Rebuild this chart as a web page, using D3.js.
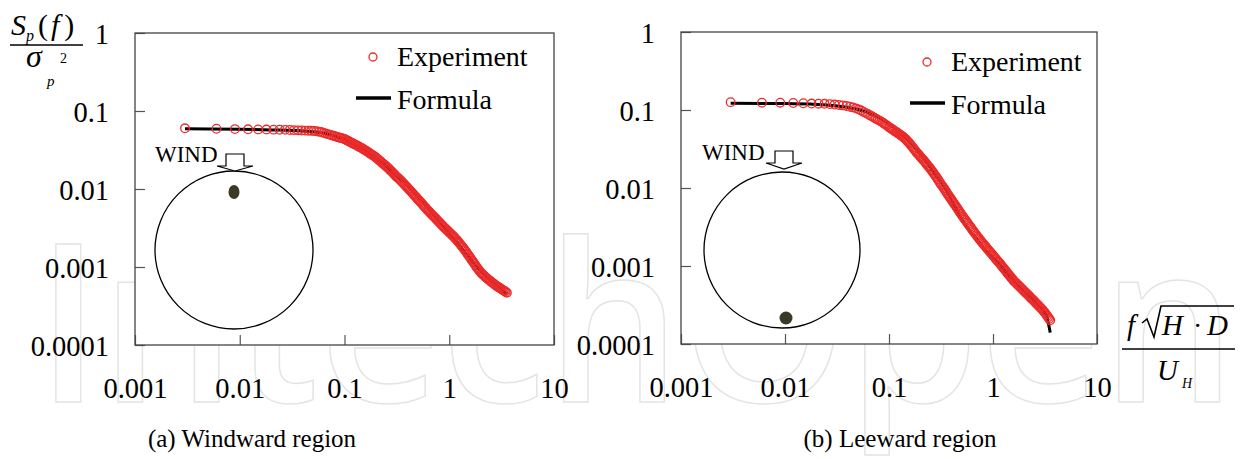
<!DOCTYPE html>
<html>
<head>
<meta charset="utf-8">
<script src="https://cdn.jsdelivr.net/npm/d3@7"></script>
<style>
  body { margin: 0; background: #fff; }
  svg text { font-family: "Liberation Serif", "Times New Roman", serif; fill: #000; }
</style>
</head>
<body>
<div id="chart"></div>
<script>
// size of the page
var svgWidth = 1241;
var svgHeight = 459;

// ---- data ----
// reduced frequency f*sqrt(H*D)/U_H (shared by both panels)
var freq = [0.003, 0.006, 0.009, 0.012, 0.015, 0.018, 0.021, 0.024, 0.027, 0.030, 0.033, 0.036, 0.039, 0.042, 0.045, 0.048,
  0.051, 0.054, 0.057, 0.060, 0.063, 0.066, 0.069, 0.072, 0.075, 0.078, 0.081, 0.084, 0.087, 0.090, 0.093, 0.096,
  0.100, 0.105, 0.110, 0.115, 0.120, 0.126, 0.132, 0.138, 0.145, 0.151, 0.158, 0.166, 0.174, 0.182, 0.191, 0.200,
  0.209, 0.219, 0.229, 0.240, 0.251, 0.263, 0.275, 0.288, 0.302, 0.316, 0.331, 0.347, 0.363, 0.380, 0.398, 0.417,
  0.437, 0.457, 0.479, 0.501, 0.525, 0.550, 0.575, 0.603, 0.631, 0.661, 0.692, 0.724, 0.759, 0.794, 0.832, 0.871,
  0.912, 0.955, 1.00, 1.05, 1.10, 1.15, 1.20, 1.26, 1.32, 1.38, 1.45, 1.51, 1.58, 1.66, 1.74, 1.82, 1.91, 2.00,
  2.09, 2.19, 2.29, 2.40, 2.51, 2.63, 2.75, 2.88, 3.02, 3.16, 3.31, 3.47, 3.55];

// (a) windward, experiment
var windwardExp = [0.0600, 0.0592, 0.0586, 0.0583, 0.0581, 0.0578, 0.0577, 0.0575, 0.0573, 0.0571, 0.0568, 0.0565, 0.0562, 0.0561, 0.0558, 0.0557,
  0.0555, 0.0551, 0.0543, 0.0537, 0.0525, 0.0515, 0.0506, 0.0498, 0.0490, 0.0482, 0.0475, 0.0468, 0.0461, 0.0455, 0.0450, 0.0444,
  0.0437, 0.0423, 0.0409, 0.0396, 0.0384, 0.0372, 0.0360, 0.0348, 0.0337, 0.0324, 0.0313, 0.0300, 0.0288, 0.0276, 0.0265, 0.0254,
  0.0240, 0.0228, 0.0216, 0.0205, 0.0195, 0.0184, 0.0173, 0.0163, 0.0152, 0.0143, 0.0135, 0.0127, 0.0119, 0.0112, 0.0105, 0.00977,
  0.00912, 0.00851, 0.00794, 0.00741, 0.00692, 0.00646, 0.00603, 0.00562, 0.00525, 0.00492, 0.00461, 0.00433, 0.00406, 0.00380, 0.00357, 0.00334,
  0.00314, 0.00296, 0.00279, 0.00262, 0.00247, 0.00231, 0.00215, 0.00200, 0.00185, 0.00171, 0.00157, 0.00144, 0.00132, 0.00120, 0.00110, 0.00100,
  0.000925, 0.000851, 0.000802, 0.000755, 0.000715, 0.000679, 0.000646, 0.000617, 0.000589, 0.000564, 0.000541, 0.000519, 0.000498, 0.000478, 0.000468];

// (b) leeward, experiment
var leewardExp = [0.126, 0.124, 0.124, 0.123, 0.122, 0.121, 0.1205, 0.120, 0.119, 0.1175, 0.116, 0.1146, 0.1125, 0.110, 0.108, 0.105,
  0.102, 0.0986, 0.0946, 0.0912, 0.0881, 0.0851, 0.0824, 0.0798, 0.0774, 0.0752, 0.0731, 0.0710, 0.0689, 0.0668, 0.0649, 0.0631,
  0.0603, 0.0578, 0.0555, 0.0532, 0.0511, 0.0490, 0.0468, 0.0447, 0.0423, 0.0396, 0.0372, 0.0343, 0.0316, 0.0292, 0.0272, 0.0254,
  0.0236, 0.0220, 0.0204, 0.0189, 0.0175, 0.0161, 0.0148, 0.0135, 0.0123, 0.0112, 0.0103, 0.00935, 0.00853, 0.00780, 0.00711, 0.00649,
  0.00592, 0.00540, 0.00492, 0.00449, 0.00412, 0.00379, 0.00348, 0.00320, 0.00294, 0.00271, 0.00249, 0.00230, 0.00213, 0.00197, 0.00183, 0.00170,
  0.00158, 0.00147, 0.00137, 0.00127, 0.00118, 0.00110, 0.00102, 0.000942, 0.000873, 0.000809, 0.000750, 0.000695, 0.000646, 0.000608, 0.000571, 0.000538,
  0.000506, 0.000475, 0.000448, 0.000421, 0.000396, 0.000372, 0.000350, 0.000329, 0.000309, 0.000290, 0.000270, 0.000251, 0.000230, 0.000211, 0.000202];

// extra readings in the dense part of the record (between the frequencies above)
var freqDense = [0.102, 0.107, 0.112, 0.118, 0.123, 0.129, 0.135, 0.141, 0.148, 0.155, 0.162, 0.170, 0.178, 0.186, 0.195, 0.204,
  0.214, 0.224, 0.234, 0.246, 0.257, 0.269, 0.282, 0.295, 0.309, 0.324, 0.339, 0.355, 0.372, 0.389, 0.407, 0.427,
  0.447, 0.468, 0.490, 0.513, 0.537, 0.562, 0.589, 0.617, 0.646, 0.676, 0.708, 0.741, 0.776, 0.813, 0.851, 0.891,
  0.933, 0.977, 1.02, 1.07, 1.12, 1.18, 1.23, 1.29, 1.35, 1.41, 1.48, 1.55, 1.62, 1.70, 1.78, 1.86,
  1.95, 2.04, 2.14, 2.24, 2.34, 2.46, 2.57, 2.69, 2.82, 2.95, 3.09, 3.24, 3.39];

var windwardExpDense = [0.0430, 0.0416, 0.0402, 0.0390, 0.0378, 0.0366, 0.0354, 0.0342, 0.0330, 0.0318, 0.0306, 0.0294, 0.0282, 0.0270, 0.0259, 0.0247,
  0.0234, 0.0222, 0.0210, 0.0200, 0.0189, 0.0178, 0.0168, 0.0157, 0.0147, 0.0139, 0.0131, 0.0123, 0.0115, 0.0108, 0.0101, 0.00944,
  0.00881, 0.00822, 0.00767, 0.00716, 0.00669, 0.00624, 0.00582, 0.00543, 0.00508, 0.00476, 0.00447, 0.00419, 0.00393, 0.00368, 0.00345, 0.00324,
  0.00305, 0.00287, 0.00270, 0.00254, 0.00239, 0.00223, 0.00207, 0.00192, 0.00178, 0.00164, 0.00150, 0.00138, 0.00126, 0.00115, 0.00105, 0.000962,
  0.000888, 0.000826, 0.000778, 0.000735, 0.000697, 0.000662, 0.000631, 0.000603, 0.000576, 0.000552, 0.000530, 0.000508, 0.000488];

var leewardExpDense = [0.0590, 0.0566, 0.0543, 0.0521, 0.0500, 0.0479, 0.0457, 0.0435, 0.0409, 0.0384, 0.0357, 0.0329, 0.0304, 0.0282, 0.0263, 0.0245,
  0.0228, 0.0212, 0.0196, 0.0182, 0.0168, 0.0154, 0.0141, 0.0129, 0.0117, 0.0107, 0.00982, 0.00894, 0.00816, 0.00745, 0.00680, 0.00620,
  0.00566, 0.00516, 0.00470, 0.00430, 0.00395, 0.00363, 0.00334, 0.00307, 0.00282, 0.00260, 0.00239, 0.00221, 0.00205, 0.00190, 0.00176, 0.00164,
  0.00152, 0.00142, 0.00132, 0.00122, 0.00114, 0.00106, 0.000981, 0.000907, 0.000841, 0.000779, 0.000722, 0.000670, 0.000627, 0.000589, 0.000554, 0.000522,
  0.000490, 0.000461, 0.000434, 0.000408, 0.000384, 0.000361, 0.000339, 0.000319, 0.000299, 0.000280, 0.000260, 0.000240, 0.000220];

// formula curves
var windFormulaFreq = [0.003, 0.01, 0.02, 0.04, 0.06, 0.08, 0.10, 0.13, 0.16, 0.20, 0.25, 0.30, 0.40, 0.50, 0.60, 0.80, 1.0, 1.2, 1.5, 2.0, 2.5, 3.0, 3.55];
var windwardFormula = [0.0590, 0.0583, 0.0572, 0.0555, 0.0525, 0.0480, 0.0430, 0.0360, 0.0305, 0.0250, 0.0196, 0.0155, 0.0112, 0.0080, 0.0061, 0.0038, 0.0027, 0.0020, 0.00140, 0.00088, 0.00066, 0.00054, 0.00045];

var leeFormulaFreq = [0.003, 0.01, 0.02, 0.04, 0.06, 0.08, 0.10, 0.13, 0.16, 0.20, 0.25, 0.30, 0.35, 0.40, 0.45, 0.50, 0.60, 0.70, 0.80, 0.90, 1.0, 1.2, 1.5, 2.0, 2.5, 3.0, 3.3, 3.55];
var leewardFormula = [0.122, 0.121, 0.118, 0.108, 0.095, 0.080, 0.066, 0.050, 0.038, 0.0275, 0.0185, 0.0130, 0.0096, 0.0070, 0.0051, 0.0040, 0.0028, 0.0022, 0.0017, 0.00145, 0.00128, 0.00100, 0.00070, 0.00047, 0.00036, 0.00027, 0.00022, 0.00014];

// ticks
var xTickValues = [0.001, 0.01, 0.1, 1, 10];
var xTickLabels = ["0.001", "0.01", "0.1", "1", "10"];
var yTickValues = [0.0001, 0.001, 0.01, 0.1, 1];
var yTickLabels = ["0.0001", "0.001", "0.01", "0.1", "1"];

var legendLabels = ["Experiment", "Formula"];
var panelTitles = ["(a) Windward region", "(b) Leeward region"];

var red = "#ec2b2b";

var svg = d3.select("#chart")
  .append("svg")
  .attr("width", svgWidth)
  .attr("height", svgHeight);

// watermark in the background
svg.append("text")
  .attr("x", 36)
  .attr("y", 402)
  .attr("textLength", 1200)
  .attr("lengthAdjust", "spacingAndGlyphs")
  .style("font-family", "'Open Sans', sans-serif")
  .style("font-weight", 600)
  .style("font-size", "222px")
  .style("fill", "none")
  .style("stroke", "#e4e4e4")
  .style("stroke-width", 1.5)
  .text("IntechOpen");

var panels = [
  { left: 135, right: 554, top: 33, bottom: 345, exp: windwardExp, expDense: windwardExpDense, fFreq: windFormulaFreq, formula: windwardFormula,
    title: panelTitles[0], titleX: 252, legendX: 373, legendY: 57,
    ring: { cx: 234, cy: 250, r: 79 }, tap: { cx: 234, cy: 192, rx: 5.5, ry: 7 }, windX: 155, windY: 162, arrowX: 235, arrowTop: 154, arrowTip: 171 },
  { left: 681, right: 1097, top: 32, bottom: 344, exp: leewardExp, expDense: leewardExpDense, fFreq: leeFormulaFreq, formula: leewardFormula,
    title: panelTitles[1], titleX: 900, legendX: 927, legendY: 62,
    ring: { cx: 782, cy: 250, r: 78 }, tap: { cx: 786, cy: 318, rx: 6.5, ry: 6.5 }, windX: 702, windY: 160, arrowX: 784, arrowTop: 151, arrowTip: 169 }
];

panels.forEach(function(p) {
  var xScale = d3.scaleLog().domain([0.001, 10]).range([p.left, p.right]);
  var yScale = d3.scaleLog().domain([0.0001, 1]).range([p.bottom, p.top]);

  // plot area hides the watermark
  svg.append("rect")
    .attr("x", p.left).attr("y", p.top)
    .attr("width", p.right - p.left).attr("height", p.bottom - p.top)
    .attr("fill", "#fff");

  // cylinder sketch with tap position
  svg.append("circle")
    .attr("cx", p.ring.cx).attr("cy", p.ring.cy).attr("r", p.ring.r)
    .attr("fill", "none").attr("stroke", "#000").attr("stroke-width", 1.3);
  svg.append("ellipse")
    .attr("cx", p.tap.cx).attr("cy", p.tap.cy).attr("rx", p.tap.rx).attr("ry", p.tap.ry)
    .attr("fill", "#3b3a26");
  svg.append("text")
    .attr("x", p.windX).attr("y", p.windY)
    .style("font-size", "23px")
    .text("WIND");
  var ax = p.arrowX, at = p.arrowTop, ah = at + 12;
  svg.append("polygon")
    .attr("points", [[ax - 9, at], [ax + 9, at], [ax + 9, ah], [ax + 18, ah], [ax, p.arrowTip], [ax - 18, ah], [ax - 9, ah]].join(" "))
    .attr("fill", "#fff").attr("stroke", "#000").attr("stroke-width", 1.2);

  // axes, ticks inward
  var bottomAxis = d3.axisBottom(xScale)
    .tickValues(xTickValues)
    .tickFormat(function(d, i) { return xTickLabels[i]; })
    .tickSizeInner(-10).tickSizeOuter(0).tickPadding(33);
  var leftAxis = d3.axisLeft(yScale)
    .tickValues(yTickValues)
    .tickFormat(function(d, i) { return yTickLabels[i]; })
    .tickSizeInner(-10).tickSizeOuter(0).tickPadding(26);

  var gx = svg.append("g")
    .attr("transform", `translate(0, ${p.bottom})`)
    .call(bottomAxis);
  var gy = svg.append("g")
    .attr("transform", `translate(${p.left}, 0)`)
    .call(leftAxis);
  [gx, gy].forEach(function(g) {
    g.attr("font-family", null);
    g.select(".domain").remove();
    g.selectAll("line").attr("stroke", "#555").attr("stroke-width", 1.2);
    g.selectAll("text")
      .style("font-family", "'Liberation Serif', serif")
      .style("font-size", "28.5px")
      .attr("fill", "#000");
  });
  gy.selectAll("text").attr("dy", "0.38em");

  // frame
  svg.append("rect")
    .attr("x", p.left).attr("y", p.top)
    .attr("width", p.right - p.left).attr("height", p.bottom - p.top)
    .attr("fill", "none").attr("stroke", "#444").attr("stroke-width", 1.3);

  // formula line
  var line = d3.line()
    .x(function(d) { return xScale(d[0]); })
    .y(function(d) { return yScale(d[1]); })
    .curve(d3.curveMonotoneX);
  svg.append("path")
    .datum(d3.zip(p.fFreq, p.formula))
    .attr("d", line)
    .attr("fill", "none")
    .attr("stroke", "#000")
    .attr("stroke-width", 3);

  // experiment points
  var pts = d3.zip(freq, p.exp).concat(d3.zip(freqDense, p.expDense));
  svg.append("g").selectAll("circle")
    .data(pts)
    .enter()
    .append("circle")
    .attr("cx", function(d) { return xScale(d[0]); })
    .attr("cy", function(d) { return yScale(d[1]); })
    .attr("r", 4.3)
    .attr("fill", "none")
    .attr("stroke", red)
    .attr("stroke-width", 1.3);

  // legend
  svg.append("circle")
    .attr("cx", p.legendX).attr("cy", p.legendY).attr("r", 4)
    .attr("fill", "none").attr("stroke", red).attr("stroke-width", 1.3);
  svg.append("text")
    .attr("x", p.legendX + 24).attr("y", p.legendY + 9)
    .style("font-size", "28px")
    .text(legendLabels[0]);
  svg.append("line")
    .attr("x1", p.legendX - 17).attr("x2", p.legendX + 18)
    .attr("y1", p.legendY + 41).attr("y2", p.legendY + 41)
    .attr("stroke", "#000").attr("stroke-width", 3.5);
  svg.append("text")
    .attr("x", p.legendX + 24).attr("y", p.legendY + 52)
    .style("font-size", "28px")
    .text(legendLabels[1]);

  // caption
  svg.append("text")
    .attr("x", p.titleX).attr("y", 447)
    .attr("text-anchor", "middle")
    .style("font-size", "25px")
    .text(p.title);
});

// y axis label: S_p(f) / sigma_p^2
var yl = svg.append("g");
var num = yl.append("text").attr("x", 11).attr("y", 35).style("font-size", "30px");
num.append("tspan").style("font-style", "italic").text("S");
num.append("tspan").style("font-style", "italic").style("font-size", "16px").attr("dy", 6).text("p");
num.append("tspan").attr("dy", -6).attr("dx", 4).text("(");
num.append("tspan").style("font-style", "italic").attr("dx", 3).text("f");
num.append("tspan").attr("dx", 5).text(")");
yl.append("line").attr("x1", 10).attr("x2", 83).attr("y1", 45).attr("y2", 45)
  .attr("stroke", "#000").attr("stroke-width", 1.3);
yl.append("text").attr("x", 26).attr("y", 67).style("font-size", "32px").style("font-style", "italic").text("σ");
yl.append("text").attr("x", 47).attr("y", 86).style("font-size", "15px").style("font-style", "italic").text("p");
yl.append("text").attr("x", 60).attr("y", 63).style("font-size", "14px").text("2");

// x axis label: f sqrt(H D) / U_H
var xl = svg.append("g");
xl.append("text").attr("x", 1127).attr("y", 335).style("font-size", "29px").style("font-style", "italic").text("f");
xl.append("path")
  .attr("d", "M1142,323 L1147,319 L1154,337 L1161,306 L1234,306")
  .attr("fill", "none").attr("stroke", "#000").attr("stroke-width", 1.6);
xl.append("text").attr("x", 1162).attr("y", 335).style("font-size", "29px").style("font-style", "italic").text("H");
xl.append("text").attr("x", 1193).attr("y", 335).style("font-size", "28px").text("·");
xl.append("text").attr("x", 1207).attr("y", 335).style("font-size", "29px").style("font-style", "italic").text("D");
xl.append("line").attr("x1", 1122).attr("x2", 1235).attr("y1", 349).attr("y2", 349)
  .attr("stroke", "#000").attr("stroke-width", 1.3);
xl.append("text").attr("x", 1157).attr("y", 380).style("font-size", "29px").style("font-style", "italic").text("U");
xl.append("text").attr("x", 1182).attr("y", 388).style("font-size", "14px").style("font-style", "italic").text("H");
</script>
</body>
</html>
